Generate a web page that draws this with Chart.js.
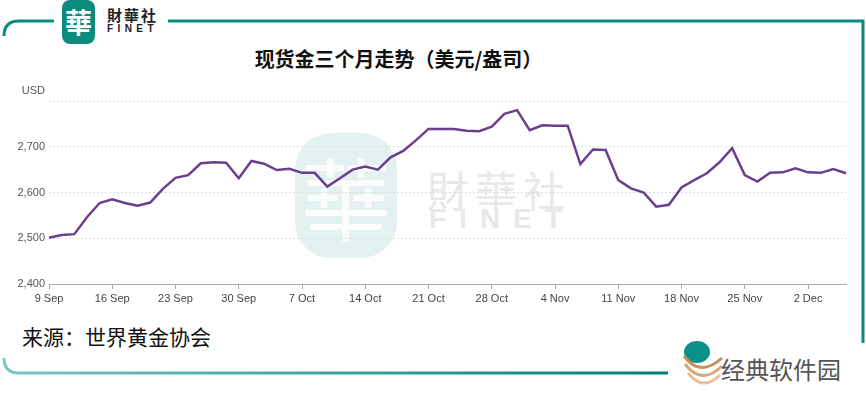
<!DOCTYPE html>
<html>
<head>
<meta charset="utf-8">
<script src="https://cdn.jsdelivr.net/npm/chart.js@4/dist/chart.umd.min.js"></script>
<style>
  html, body { margin: 0; padding: 0; background: #fff; }
  #wrap { position: relative; width: 866px; height: 395px; overflow: hidden; background: #fff; }
  #frame { position: absolute; left: 0; top: 0; }
  .abs { position: absolute; white-space: nowrap; }
  #logo { left: 62px; top: 0px; width: 33px; height: 44px; background: #0b8a7e; border-radius: 8px;
          color: #fff; font: 700 27px "Noto Sans CJK TC"; line-height: 44px; text-align: center; }
  #brand1 { left: 107px; top: 4px; font: 700 15px "Noto Sans CJK TC"; color: #222; letter-spacing: 2px; }
  #brand2 { left: 107px; top: 23px; font: 700 10px "Liberation Sans", Arial; color: #222; letter-spacing: 4.4px; }
  #title { left: 0; width: 797px; top: 44px; text-align: center; font: 700 20px "Noto Sans CJK SC"; color: #111; }
  #source { left: 22px; top: 321px; font: 400 21px "Noto Sans CJK SC"; color: #111; }
  #wmlogo { left: 295px; top: 133px; width: 102px; height: 125px; background: #e3f2f0; border-radius: 36px;
            color: #fbfdfd; font: 400 90px "Noto Sans CJK TC"; line-height: 125px; text-align: center; }
  #wm1 { left: 427px; top: 158px; font: 400 42px "Noto Sans CJK TC"; color: #e8e8e8; letter-spacing: 6px; }
  #wm2 { left: 429px; top: 203px; font: 700 28px "Liberation Sans", Arial; color: #e8e8e8; letter-spacing: 13px; }
  #jd { left: 721px; top: 351px; font: 400 24px "Noto Sans CJK SC"; color: #555; letter-spacing: 0px; }
  canvas { position: absolute; left: 0; top: 0; }
</style>
</head>
<body>
<div id="wrap">
  <svg id="frame" width="866" height="395">
    <defs>
      <linearGradient id="gLeft" x1="0" y1="0" x2="0" y2="1">
        <stop offset="0" stop-color="#0a8a80"/>
        <stop offset="1" stop-color="#8fd0cc"/>
      </linearGradient>
      <linearGradient id="gBottom" x1="0" y1="0" x2="1" y2="0">
        <stop offset="0" stop-color="#7cc6c2"/>
        <stop offset="1" stop-color="#007f77"/>
      </linearGradient>
    </defs>
    <path d="M 54 21 H 19 Q 4 21 4 36" fill="none" stroke="#0a8a80" stroke-width="3"/>
    <path d="M 4 36 V 358" fill="none" stroke="url(#gLeft)" stroke-width="3"/>
    <path d="M 4 358 Q 4 373 19 373 H 668" fill="none" stroke="url(#gBottom)" stroke-width="3"/>
    <path d="M 168 21 H 863 V 343" fill="none" stroke="#0a8a80" stroke-width="3"/>
    <ellipse cx="697" cy="352" rx="13" ry="11" fill="#0b9189"/>
    <path d="M 684 356 Q 700 378 722 358" fill="none" stroke="#c8915a" stroke-width="3"/>
    <path d="M 685 364 Q 702 386 722 366" fill="none" stroke="#d9a877" stroke-width="3"/>
    <path d="M 688 373 Q 703 392 720 375" fill="none" stroke="#e6c09a" stroke-width="3"/>
  </svg>
  <div class="abs" id="logo">華</div>
  <div class="abs" id="brand1">財華社</div>
  <div class="abs" id="brand2">FINET</div>
  <div class="abs" id="wmlogo">華</div>
  <div class="abs" id="wm1">財華社</div>
  <div class="abs" id="wm2">FINET</div>
  <div class="abs" id="title">现货金三个月走势（美元/盎司）</div>
  <div class="abs" id="source">来源：世界黄金协会</div>
  <div class="abs" id="jd">经典软件园</div>
  <canvas id="c" width="866" height="395"></canvas>
</div>
<script>
const dates = [
  '9 Sep','10 Sep','11 Sep','12 Sep','13 Sep',
  '16 Sep','17 Sep','18 Sep','19 Sep','20 Sep',
  '23 Sep','24 Sep','25 Sep','26 Sep','27 Sep',
  '30 Sep','1 Oct','2 Oct','3 Oct','4 Oct',
  '7 Oct','8 Oct','9 Oct','10 Oct','11 Oct',
  '14 Oct','15 Oct','16 Oct','17 Oct','18 Oct',
  '21 Oct','22 Oct','23 Oct','24 Oct','25 Oct',
  '28 Oct','29 Oct','30 Oct','31 Oct','1 Nov',
  '4 Nov','5 Nov','6 Nov','7 Nov','8 Nov',
  '11 Nov','12 Nov','13 Nov','14 Nov','15 Nov',
  '18 Nov','19 Nov','20 Nov','21 Nov','22 Nov',
  '25 Nov','26 Nov','27 Nov','28 Nov','29 Nov',
  '2 Dec','3 Dec','4 Dec','5 Dec'
];
const prices = [
  2501, 2507, 2509, 2546, 2577,
  2585, 2577, 2571, 2578, 2608,
  2632, 2638, 2664, 2666, 2665,
  2631, 2669, 2663, 2649, 2652,
  2643, 2643, 2613, 2631, 2650,
  2657, 2650, 2677, 2691, 2714,
  2739, 2739, 2739, 2735, 2734,
  2744, 2772, 2780, 2736, 2747,
  2746, 2746, 2662, 2694, 2693,
  2627, 2609, 2600, 2569, 2573,
  2611, 2627, 2642, 2666, 2697,
  2638, 2624, 2643, 2644, 2653,
  2644, 2643, 2651, 2642
];
const weekLabels = ['9 Sep','16 Sep','23 Sep','30 Sep','7 Oct','14 Oct','21 Oct','28 Oct','4 Nov','11 Nov','18 Nov','25 Nov','2 Dec'];
const yTicks = [2400, 2500, 2600, 2700, 2800];
const yUnit = 'USD';

const unitPlugin = {
  id: 'unitLabel',
  afterDraw(chart) {
    const { ctx, chartArea } = chart;
    ctx.save();
    ctx.font = '11px "Liberation Sans", Arial';
    ctx.fillStyle = '#555';
    ctx.textAlign = 'right';
    ctx.textBaseline = 'middle';
    ctx.fillText(yUnit, chartArea.left - 4, chartArea.top - 10);
    ctx.restore();
  }
};

new Chart(document.getElementById('c'), {
  type: 'line',
  data: {
    labels: dates,
    datasets: [{
      data: prices,
      borderColor: '#6b3f8e',
      borderWidth: 2.5,
      pointRadius: 0,
      tension: 0,
      fill: false
    }]
  },
  options: {
    responsive: false,
    devicePixelRatio: 1,
    animation: false,
    layout: { padding: { top: 101, right: 20, left: 0, bottom: 0 } },
    plugins: { legend: { display: false }, tooltip: { enabled: false }, title: { display: false } },
    scales: {
      x: {
        type: 'category',
        afterBuildTicks: s => { s.ticks = s.ticks.filter(t => weekLabels.includes(dates[t.value])); },
        afterFit: s => { s.height = 111; },
        grid: { display: true, drawOnChartArea: false, drawTicks: true, tickLength: 5, color: '#aaa' },
        border: { display: true, color: '#aaa', width: 1 },
        ticks: { autoSkip: false, maxRotation: 0, padding: 3, color: '#444',
                 font: { family: '"Liberation Sans", Arial', size: 11 } }
      },
      y: {
        min: 2400, max: 2800,
        afterBuildTicks: s => { s.ticks = yTicks.map(v => ({ value: v })); },
        afterFit: s => { s.width = 49; },
        grid: { color: '#dcdcdc', drawTicks: false, lineWidth: 1 },
        border: { display: false, dash: [2, 2] },
        ticks: { padding: 4, color: '#555', font: { family: '"Liberation Sans", Arial', size: 11 },
                 callback: v => v === yTicks[yTicks.length - 1] ? '' : Number(v).toLocaleString('en-US') }
      }
    }
  },
  plugins: [unitPlugin]
});
</script>
</body>
</html>
